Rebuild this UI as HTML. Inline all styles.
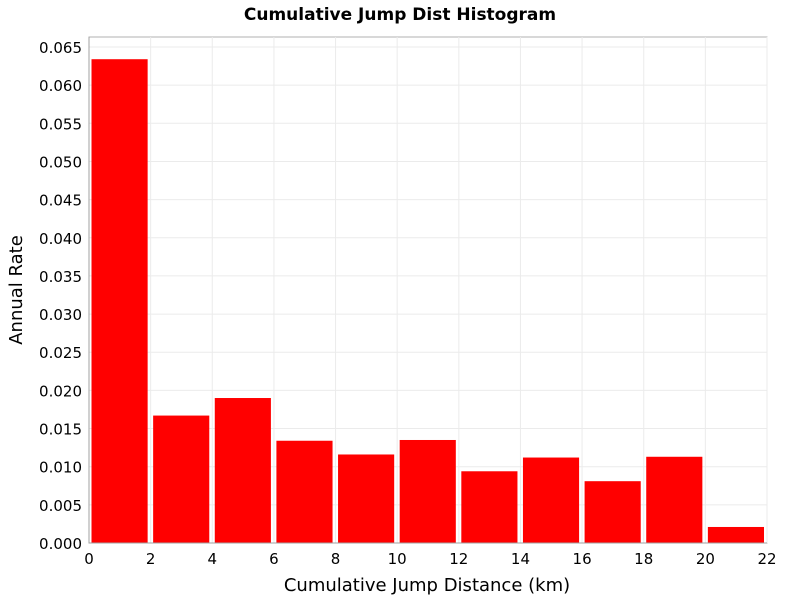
<!DOCTYPE html>
<html><head><meta charset="utf-8"><style>
body{margin:0;background:#fff;font-family:"DejaVu Sans","Liberation Sans",sans-serif}
</style></head><body>
<svg width="800" height="600" xmlns="http://www.w3.org/2000/svg">
<text x="400" y="20" text-anchor="middle" font-size="17" font-weight="bold" font-family="DejaVu Sans, Liberation Sans, sans-serif">Cumulative Jump Dist Histogram</text>
<rect x="89" y="37" width="678" height="506" fill="#fff" stroke="#b0b0b0"/>
<g id="grid"></g>
<g id="bars"></g>
<g id="axes"></g>
<text x="427" y="591" text-anchor="middle" font-size="18" font-family="DejaVu Sans, Liberation Sans, sans-serif">Cumulative Jump Distance (km)</text>
<text transform="translate(22,290) rotate(-90)" text-anchor="middle" font-size="18" font-family="DejaVu Sans, Liberation Sans, sans-serif">Annual Rate</text>
</svg>
<script>
const binStarts=[0,2,4,6,8,10,12,14,16,18,20];
const rates=[0.0634,0.0167,0.0190,0.0134,0.0116,0.0135,0.0094,0.0112,0.0081,0.0113,0.0021];
const xTicks=[0,2,4,6,8,10,12,14,16,18,20,22];
const yTicks=[0,0.005,0.01,0.015,0.02,0.025,0.03,0.035,0.04,0.045,0.05,0.055,0.06,0.065];
const binWidth=2;
const NS="http://www.w3.org/2000/svg";
const X0=89,X1=767,Y0=543,Ytop=47;
const xs=v=>X0+(v/22)*(X1-X0);
const ys=v=>Y0-(v/0.065)*(Y0-Ytop);
function mk(t,a){const e=document.createElementNS(NS,t);for(const k in a)e.setAttribute(k,a[k]);return e;}
const grid=document.getElementById('grid'),bars=document.getElementById('bars'),axes=document.getElementById('axes');
xTicks.forEach(t=>{
 const l=mk('line',{x1:xs(t),x2:xs(t),y1:37,y2:Y0,stroke:'#ebebeb'});
 
 
 grid.appendChild(l);
 const tx=mk('text',{x:xs(t),y:Y0+21,'text-anchor':'middle','font-size':'15'});
 
 
 tx.textContent=t;axes.appendChild(tx);
});
yTicks.forEach(t=>{
 const l=mk('line',{x1:X0,x2:X1,y1:ys(t),y2:ys(t),stroke:'#ebebeb'});
 
 
 grid.appendChild(l);
 const tx=mk('text',{x:X0-7,y:ys(t)+6,'text-anchor':'end','font-size':'15'});
 
 
 tx.textContent=t.toFixed(3);axes.appendChild(tx);
});
binStarts.forEach((b,i)=>{
 const x1=xs(b)+2.5,x2=xs(b+binWidth)-3;
 const r=mk('rect',{x:x1,y:ys(rates[i]),width:x2-x1,height:Y0-ys(rates[i]),fill:'#ff0000'});
 
 
 bars.appendChild(r);
});
const ax=mk('path',{d:`M${X0} 37 V${Y0} H${X1}`,stroke:'#a0a0a0',fill:'none'});


axes.appendChild(ax);
</script>
</body></html>
